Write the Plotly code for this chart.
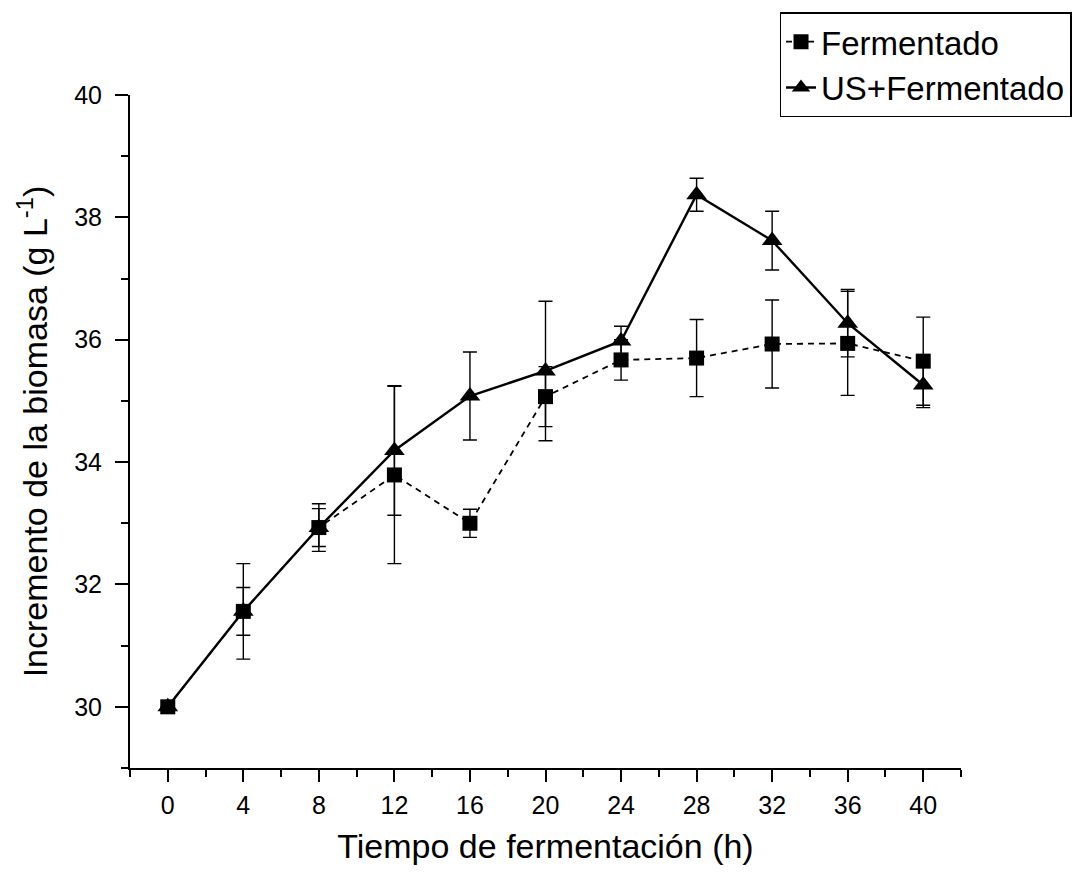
import plotly.graph_objects as go

time_h = [0, 4, 8, 12, 16, 20, 24, 28, 32, 36, 40]

fermentado = [30.0, 31.56, 32.93, 33.79, 33.0, 35.07, 35.67, 35.70, 35.93, 35.94, 35.65]
fermentado_err = [0.0, 0.78, 0.39, 1.45, 0.23, 0.49, 0.33, 0.63, 0.72, 0.85, 0.72]

us_fermentado = [30.0, 31.56, 32.93, 34.19, 35.08, 35.49, 35.98, 38.37, 37.62, 36.27, 35.26]
us_fermentado_err = [0.0, 0.39, 0.31, 1.06, 0.72, 1.14, 0.24, 0.27, 0.48, 0.55, 0.37]

x_ticks = [0, 4, 8, 12, 16, 20, 24, 28, 32, 36, 40]
y_ticks = [30, 32, 34, 36, 38, 40]

font_family = "Liberation Sans, Arial, sans-serif"

fig = go.Figure()

fig.add_trace(go.Scatter(
    x=time_h, y=fermentado, name="Fermentado", mode="lines+markers",
    line=dict(color="black", width=1.8, dash="6px,5px"),
    marker=dict(symbol="square", size=15, color="black"),
    error_y=dict(type="data", array=fermentado_err, visible=True,
                 color="black", thickness=1.4, width=7),
))

fig.add_trace(go.Scatter(
    x=time_h, y=us_fermentado, name="US+Fermentado", mode="lines+markers",
    line=dict(color="black", width=2.4),
    marker=dict(symbol="triangle-up", size=18, color="black"),
    error_y=dict(type="data", array=us_fermentado_err, visible=True,
                 color="black", thickness=1.4, width=7),
))

fig.update_layout(
    width=1083, height=874,
    margin=dict(l=130, r=117, t=93, b=106),
    paper_bgcolor="white", plot_bgcolor="white",
    font=dict(family=font_family, color="black", size=25),
    showlegend=True,
    legend=dict(
        x=1.133, xanchor="right", y=1.123, yanchor="top",
        bgcolor="white", bordercolor="black", borderwidth=1.5,
        font=dict(size=33, family=font_family), tracegroupgap=0,
    ),
)

fig.update_xaxes(
    range=[-2, 42], tickmode="array", tickvals=x_ticks,
    ticks="outside", ticklen=12, tickwidth=1.6, tickcolor="black",
    showline=True, linecolor="black", linewidth=2, showgrid=False, zeroline=False,
    tickfont=dict(size=25), ticklabelstandoff=2,
    minor=dict(dtick=2, tick0=0, ticks="outside", ticklen=7, tickwidth=1.6, tickcolor="black", showgrid=False),
    title=dict(text="Tiempo de fermentación (h)", font=dict(size=34), standoff=16),
)

fig.update_yaxes(
    range=[29, 40], tickmode="array", tickvals=y_ticks,
    ticks="outside", ticklen=13, tickwidth=1.6, tickcolor="black",
    showline=True, linecolor="black", linewidth=2, showgrid=False, zeroline=False,
    tickfont=dict(size=25), ticklabelstandoff=8,
    minor=dict(dtick=1, tick0=29, ticks="outside", ticklen=7, tickwidth=1.6, tickcolor="black", showgrid=False),
    title=dict(text="Incremento de la biomasa (g L<sup>-1</sup>)", font=dict(size=34), standoff=16),
)

fig.write_html("out.html")
